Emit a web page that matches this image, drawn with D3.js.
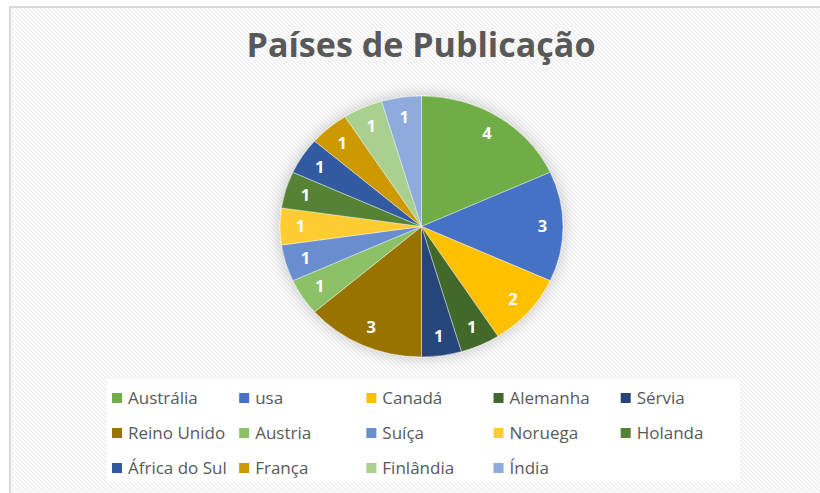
<!DOCTYPE html>
<html><head><meta charset="utf-8">
<script src="https://cdn.jsdelivr.net/npm/d3@7"></script>
<style>html,body{margin:0;padding:0;background:#fff;overflow:hidden}</style>
</head><body>
<svg id="c" width="820" height="493"></svg>
<script>
const categories = ["Austrália","usa","Canadá","Alemanha","Sérvia","Reino Unido","Austria","Suíça","Noruega","Holanda","África do Sul","França","Finlândia","Índia"];
const values = [4,3,2,1,1,3,1,1,1,1,1,1,1,1];
const colors = ["#70AD47","#4472C4","#FFC000","#43682B","#264478","#997300","#8CC168","#698ED0","#FFCD33","#548235","#335AA1","#CC9A00","#A9D08E","#8FAADC"];
const title = "Países de Publicação";

const svg = d3.select("#c");
const defs = svg.append("defs");
const pat = defs.append("pattern").attr("id","hatch").attr("patternUnits","userSpaceOnUse")
  .attr("width",4).attr("height",4);
pat.append("rect").attr("width",4).attr("height",4).attr("fill","#ffffff");
pat.append("path").attr("d","M-1,-1 L5,5 M3,-1 L5,1 M-1,3 L1,5").attr("stroke","#eeeeee").attr("stroke-width",1.3);
const f = defs.append("filter").attr("id","sh").attr("x","-30%").attr("y","-30%").attr("width","160%").attr("height","160%");
f.append("feDropShadow").attr("dx",0).attr("dy",0).attr("stdDeviation",7).attr("flood-color","#000").attr("flood-opacity",0.22);

// frame
svg.append("rect").attr("x",10).attr("y",7).attr("width",820).attr("height",500)
  .attr("fill","url(#hatch)").attr("stroke","#d9d9d9").attr("stroke-width",2);

// title
const t = svg.append("text").attr("x",421).attr("y",57).attr("text-anchor","middle")
  .attr("font-family","'Open Sans','Noto Sans',sans-serif").attr("font-weight","bold")
  .attr("font-size",30).attr("fill","#595959").text(title);
const tl = t.node().getComputedTextLength();
t.attr("font-size", 30*349/tl);

// pie
const cx = 421.5, cy = 226.5, rx = 141.5, ry = 130.5;
const pie = d3.pie().sort(null).value(d=>d)(values);
const arc = d3.arc().innerRadius(0).outerRadius(ry);
const g = svg.append("g").attr("transform",`translate(${cx},${cy}) scale(${rx/ry},1)`);
g.append("g").attr("filter","url(#sh)").selectAll("path").data(pie).join("path")
  .attr("d",arc).attr("fill",(d,i)=>colors[i]).attr("stroke","#ffffff").attr("stroke-width",0.4);

const la = 121, lb = 110.5;
svg.append("g").selectAll("text").data(pie).join("text")
  .attr("x",d=>cx + Math.sin((d.startAngle+d.endAngle)/2)*la)
  .attr("y",d=>cy - Math.cos((d.startAngle+d.endAngle)/2)*lb)
  .attr("dy","0.36em").attr("text-anchor","middle")
  .attr("font-family","'Open Sans','Noto Sans',sans-serif").attr("font-weight","bold")
  .attr("font-size",16.5).attr("fill","#ffffff").text(d=>d.data);

// legend
svg.append("rect").attr("x",107).attr("y",379).attr("width",633).attr("height",103).attr("fill","#ffffff");
const lx = d3.scalePoint().domain(d3.range(5)).range([112,620.7]);
const ly = d3.scalePoint().domain(d3.range(3)).range([398,468]);
const li = svg.append("g").selectAll("g").data(categories).join("g")
  .attr("transform",(d,i)=>`translate(${lx(i%5)},${ly(Math.floor(i/5))})`);
li.append("rect").attr("x",0).attr("y",-5).attr("width",10).attr("height",10).attr("fill",(d,i)=>colors[i]);
li.append("text").attr("x",16).attr("y",0).attr("dy","0.36em")
  .attr("font-family","'Open Sans','Noto Sans',sans-serif").attr("font-size",17)
  .attr("fill","#595959").text(d=>d);
</script>
</body></html>
